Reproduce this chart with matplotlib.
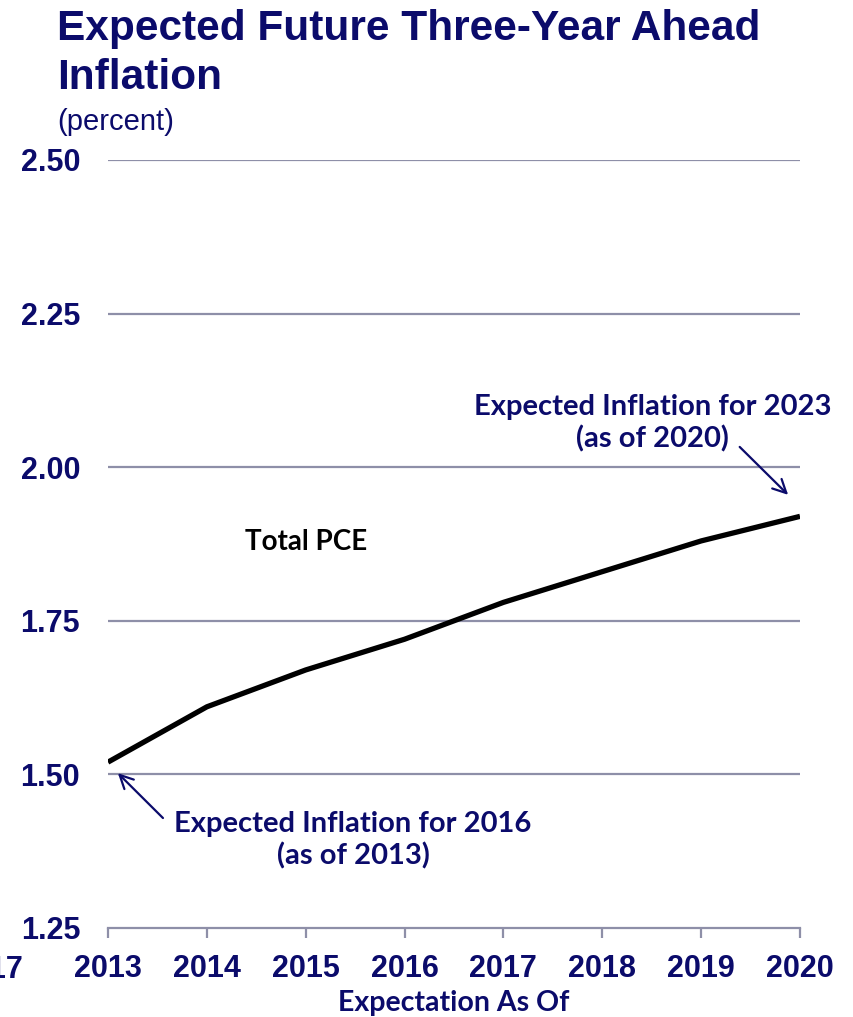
import matplotlib
matplotlib.use("Agg")
import matplotlib.pyplot as plt
from matplotlib import font_manager

years = [2013, 2014, 2015, 2016, 2017, 2018, 2019, 2020]
total_pce = [1.52, 1.61, 1.67, 1.72, 1.78, 1.83, 1.88, 1.92]
y_ticks = [1.25, 1.50, 1.75, 2.00, 2.25, 2.50]
y_tick_labels = ["1.25", "1.50", "1.75", "2.00", "2.25", "2.50"]

names = {f.name for f in font_manager.fontManager.ttflist}
title_font = "Liberation Sans Narrow" if "Liberation Sans Narrow" in names else "Liberation Sans"
navy = "#0B0B6B"
grid_c = "#8E8FA8"

fig = plt.figure(figsize=(8.54, 10.17), dpi=100)
W, H = 854, 1017
ax = fig.add_axes([108 / W, 1 - 928 / H, (800 - 108) / W, (928 - 160) / H])

ax.plot(years, total_pce, color="black", lw=3.8, solid_capstyle="butt", zorder=3)
ax.set_xlim(2013, 2020)
ax.set_ylim(1.25, 2.50)
ax.set_yticks(y_ticks)
ax.set_yticklabels(y_tick_labels)
ax.set_xticks(years)
ax.set_xticklabels([str(y) for y in years])
for yv in y_ticks[1:]:
    ax.axhline(yv, color=grid_c, lw=1.6, zorder=1)
for s in ["top", "right", "left"]:
    ax.spines[s].set_visible(False)
ax.spines["bottom"].set_color(grid_c)
ax.spines["bottom"].set_linewidth(1.6)
ax.tick_params(axis="y", length=0, pad=20)
ax.tick_params(axis="x", length=7, width=1.6, color=grid_c, direction="out", pad=12)
for lab in ax.get_yticklabels() + ax.get_xticklabels():
    lab.set_fontfamily("Liberation Sans")
    lab.set_fontweight("bold")
    lab.set_fontsize(22)
    lab.set_color(navy)

ax.set_xlabel("Expectation As Of", fontfamily="Lato", fontweight="bold",
              fontsize=20.5, color=navy, labelpad=4)

fig.text(57 / W, 1 - 9 / H, "Expected Future Three-Year Ahead\nInflation",
         fontfamily=title_font, fontweight="bold", fontsize=30.5, color=navy,
         ha="left", va="top", linespacing=1.3)
fig.text(57 / W, 1 - 130 / H, "(percent)", fontfamily=title_font,
         fontsize=21, color=navy, ha="left", va="baseline")

fig.text(23 / W, 1 - 978 / H, "2017", fontfamily="Liberation Sans", fontweight="bold",
         fontsize=22, color=navy, ha="right", va="baseline")

ax.text(2015.0, 1.878, "Total PCE", fontfamily="Lato", fontweight="bold",
        fontsize=20, color="black", ha="center", va="center")

ax.text(2018.51, 2.072, "Expected Inflation for 2023\n(as of 2020)",
        fontfamily="Lato", fontweight="bold", fontsize=21, color=navy,
        ha="center", va="center", linespacing=1.25)
ax.annotate("", xy=(2019.88, 1.955), xytext=(2019.39, 2.033),
            arrowprops=dict(arrowstyle="->", color=navy, lw=1.6, mutation_scale=24,
                            shrinkA=0, shrinkB=0))
ax.text(2015.48, 1.393, "Expected Inflation for 2016\n(as of 2013)",
        fontfamily="Lato", fontweight="bold", fontsize=21, color=navy,
        ha="center", va="center", linespacing=1.25)
ax.annotate("", xy=(2013.10, 1.502), xytext=(2013.556, 1.429),
            arrowprops=dict(arrowstyle="->", color=navy, lw=1.6, mutation_scale=24,
                            shrinkA=0, shrinkB=0))

fig.savefig("out.png", dpi=100)
